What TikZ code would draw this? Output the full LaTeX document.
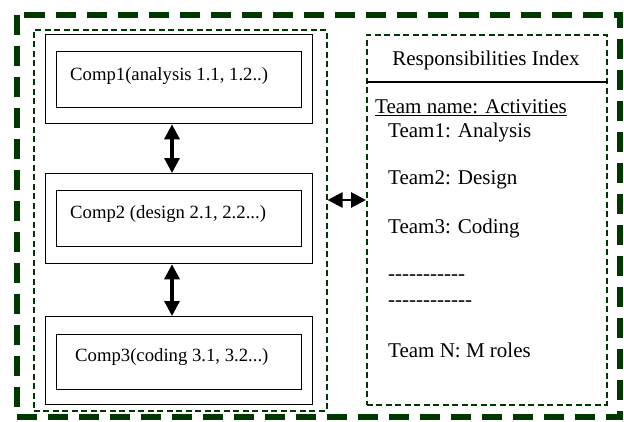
\documentclass[tikz,border=0pt]{standalone}
\usepackage{fontspec}
\setmainfont{Liberation Serif}
\usetikzlibrary{arrows.meta,calc}
\definecolor{frame}{RGB}{0,56,0}
\tikzset{
  outerframe/.style={draw=frame, line width=6pt, dash pattern=on 20pt off 11pt},
  groupframe/.style={draw=frame, line width=1.6pt, dash pattern=on 6pt off 3.5pt},
  compouter/.style={draw, line width=1.3pt, minimum width=267pt, anchor=north west, inner sep=0pt},
  compinner/.style={draw, line width=1.3pt, minimum width=245pt, anchor=north west, inner sep=0pt},
  comptext/.style={anchor=west, inner sep=0pt, font=\fontsize{18.7}{22}\selectfont},
  idxtext/.style={anchor=west, inner sep=0pt, font=\fontsize{21}{25}\selectfont},
  bothway/.style={{Triangle[length=15pt,width=15pt]}-{Triangle[length=15pt,width=15pt]}, line width=3.2pt},
}
\begin{document}
\begin{tikzpicture}[x=1pt,y=-1pt]
\useasboundingbox (0,0) rectangle (624,421);

% outer frame
\draw[outerframe] (16.5,14.5) rectangle (620,417);

% component group
\node[groupframe, anchor=north west, minimum width=293pt, minimum height=381pt, inner sep=0pt] (grp) at (33,29) {};

\node[compouter, minimum height=89pt] (c1o) at (45,34) {};
\node[compinner, minimum height=56pt] (c1i) at (56,51) {};
\node[comptext] (c1t) at (70,76) {Comp1(analysis 1.1, 1.2..)};

\node[compouter, minimum height=90pt] (c2o) at (45,173) {};
\node[compinner, minimum height=56pt] (c2i) at (56,190) {};
\node[comptext] (c2t) at (70,214) {Comp2 (design 2.1, 2.2...)};

\node[compouter, minimum height=88pt] (c3o) at (45,316) {};
\node[compinner, minimum height=55pt] (c3i) at (56,334) {};
\node[comptext] (c3t) at (75,357) {Comp3(coding 3.1, 3.2...)};

\coordinate (ax) at (172,0);
\draw[bothway] (c1o.south -| ax) -- (c2o.north -| ax);
\draw[bothway] (c2o.south -| ax) -- (c3o.north -| ax);

% responsibilities index
\node[groupframe, anchor=north west, minimum width=240pt, minimum height=370pt, inner sep=0pt] (idx) at (366,34) {};
\coordinate (sep) at (0,82);
\draw[line width=1.3pt] (idx.west |- sep) -- (idx.east |- sep);
\node[idxtext, anchor=center] (title) at (486,60) {Responsibilities Index};
\node[idxtext] (hdr) at (375,108) {\underline{Team name: Activities}};
\node[idxtext] (t1) at (388,132) {Team1: Analysis};
\node[idxtext] (t2) at (388,180) {Team2: Design};
\node[idxtext] (t3) at (388,228) {Team3: Coding};
\node[idxtext] (d1) at (388,278) {-{}-{}-{}-{}-{}-{}-{}-{}-{}-{}-};
\node[idxtext] (d2) at (388,304) {-{}-{}-{}-{}-{}-{}-{}-{}-{}-{}-{}-};
\node[idxtext] (tn) at (388,350) {Team N: M roles};

\coordinate (hy) at (0,200);
\draw[bothway, line width=2.8pt] (grp.east |- hy) -- (idx.west |- hy);
\end{tikzpicture}
\end{document}
